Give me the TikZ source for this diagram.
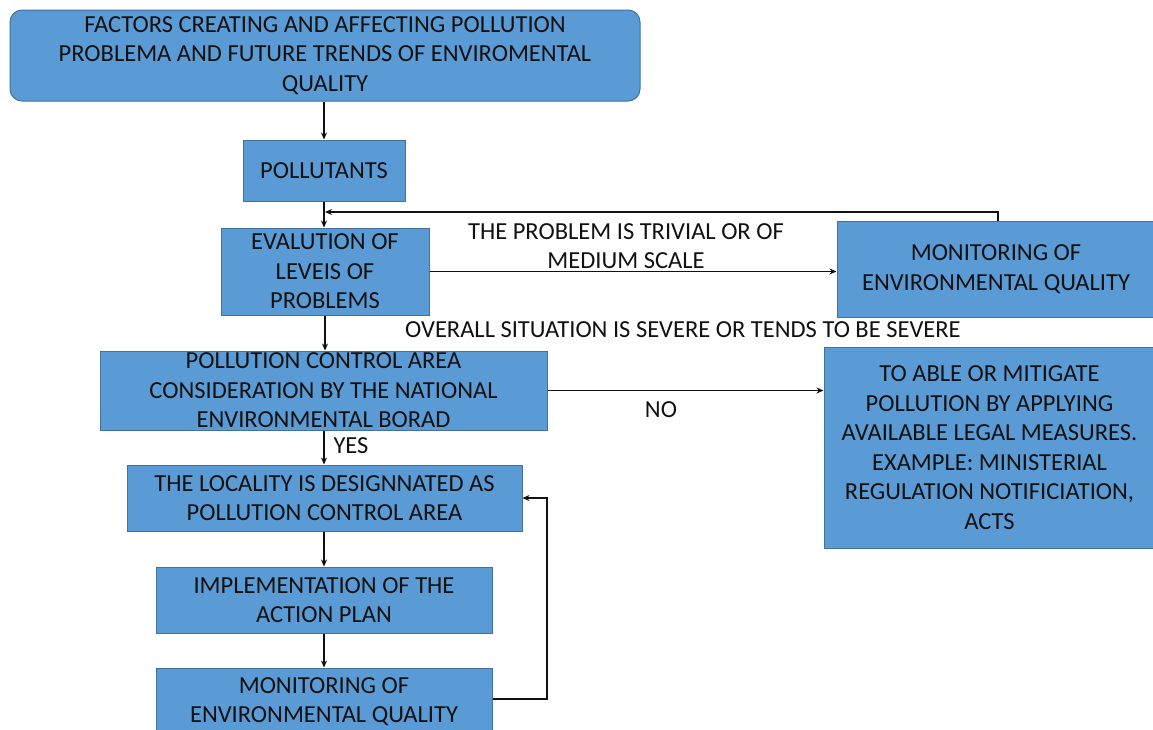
\documentclass[tikz,border=0pt]{standalone}
\usepackage{fontspec}
\setmainfont{Carlito}
\usetikzlibrary{arrows.meta}
\definecolor{boxfill}{HTML}{5B9BD5}
\definecolor{boxdraw}{HTML}{41719C}
\definecolor{ink}{HTML}{111111}
\tikzset{
  fbox/.style={draw=boxdraw, fill=boxfill, line width=1pt, align=center, inner sep=0pt,
    font=\fontsize{24.5}{29.5}\selectfont, text=ink},
  lbl/.style={align=center, inner sep=0pt, font=\fontsize{24.5}{29}\selectfont, text=ink},
  arr/.style={-{Stealth[length=7pt,width=6pt]}, line width=1.2pt, draw=ink},
  ln/.style={line width=1.2pt, draw=ink}
}
\begin{document}
\begin{tikzpicture}[x=1pt,y=-1pt]
\useasboundingbox[fill=white] (0,0) rectangle (1153,729);
\clip (0,0) rectangle (1153,729);
\node[fbox, rounded corners=12pt, minimum width=630pt, minimum height=91pt] (top) at (325,55.5)
  {FACTORS CREATING AND AFFECTING POLLUTION\\PROBLEMA AND FUTURE TRENDS OF ENVIROMENTAL\\QUALITY};
\node[fbox, minimum width=162pt, minimum height=61pt] (poll) at (324,170.5) {POLLUTANTS};
\node[fbox, minimum width=208pt, minimum height=87pt] (eval) at (325,271.5) {EVALUTION OF\\LEVEIS OF\\PROBLEMS};
\node[fbox, minimum width=447pt, minimum height=79pt] (pca) at (323.5,390.5)
  {POLLUTION CONTROL AREA\\CONSIDERATION BY THE NATIONAL\\ENVIRONMENTAL BORAD};
\node[fbox, minimum width=395pt, minimum height=66pt] (loc) at (324.5,498)
  {THE LOCALITY IS DESIGNNATED AS\\POLLUTION CONTROL AREA};
\node[fbox, minimum width=336pt, minimum height=66pt] (impl) at (324,600)
  {IMPLEMENTATION OF THE\\ACTION PLAN};
\node[fbox, minimum width=336pt, minimum height=67pt] (mon2) at (324,701.5)
  {MONITORING OF\\ENVIRONMENTAL QUALITY};
\node[fbox, minimum width=318pt, minimum height=96pt] (mon1) at (996,269)
  {MONITORING OF\\ENVIRONMENTAL QUALITY};
\node[fbox, minimum width=331pt, minimum height=201pt] (mit) at (989.5,447.5)
  {TO ABLE OR MITIGATE\\POLLUTION BY APPLYING\\AVAILABLE LEGAL MEASURES.\\EXAMPLE: MINISTERIAL\\REGULATION NOTIFICIATION,\\ACTS};
% labels
\node[lbl] (l1) at (626,246.5) {THE PROBLEM IS TRIVIAL OR OF\\MEDIUM SCALE};
\node[lbl] (l2) at (683,330) {OVERALL SITUATION IS SEVERE OR TENDS TO BE SEVERE};
\node[lbl] (l3) at (661,410) {NO};
\node[lbl] (l4) at (351,446) {YES};
% connectors
\draw[arr] (top.south -| poll.north) -- (poll.north);
\draw[arr] (poll.south) -- (poll.south |- eval.north);
\coordinate (m1up) at (998,221);
\coordinate (fbend) at (325,212);
\draw[arr] (m1up) |- (fbend);
\draw[arr] (eval.east) -- (eval.east -| mon1.west);
\draw[arr] (eval.south) -- (eval.south |- pca.north);
\draw[arr] (pca.east) -- (pca.east -| mit.west);
\draw[arr] (pca.south -| poll.south) -- (loc.north -| poll.south);
\draw[arr] (loc.south -| poll.south) -- (impl.north -| poll.south);
\draw[arr] (impl.south -| poll.south) -- (mon2.north -| poll.south);
\coordinate (mr) at (547,699);
\draw[arr] (mon2.east |- mr) -- (mr) |- (loc.east);
\end{tikzpicture}
\end{document}
